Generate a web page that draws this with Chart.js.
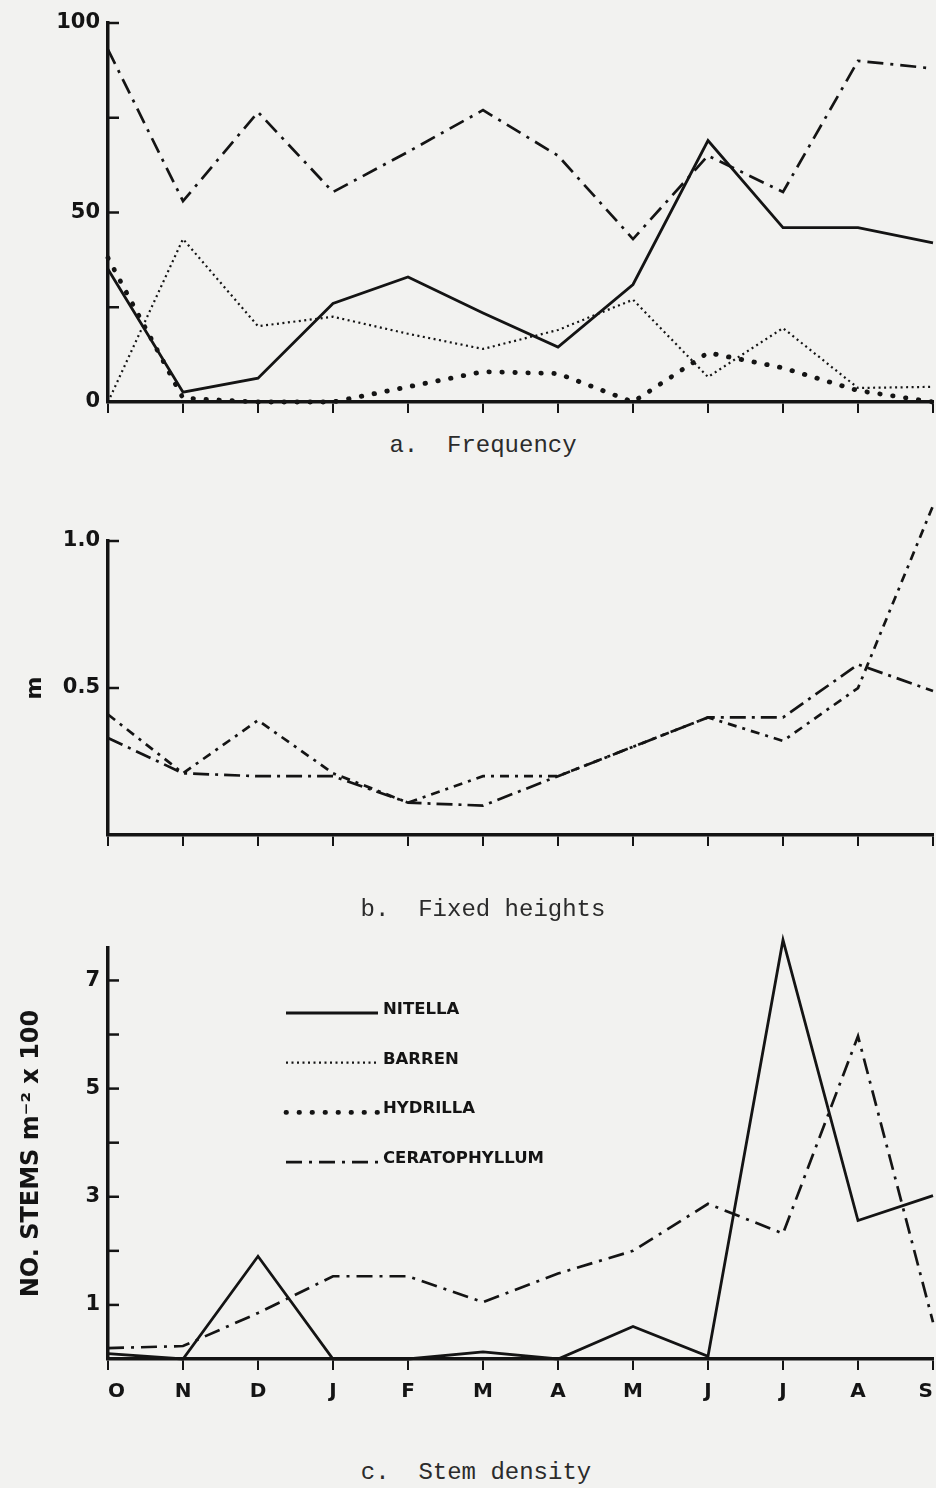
<!DOCTYPE html>
<html>
<head>
<meta charset="utf-8">
<script src="https://cdn.jsdelivr.net/npm/chart.js@4.4.1/dist/chart.umd.min.js"></script>
<style>
  html, body { margin: 0; padding: 0; background: #f2f2f0; }
  #page { position: relative; width: 936px; height: 1488px; overflow: hidden; }
  canvas { position: absolute; left: 0; }
  .cap {
    position: absolute;
    font-family: "Liberation Mono", monospace;
    font-size: 24px;
    color: #2b2b2b;
    white-space: pre;
    transform: translate(-50%, -50%);
  }
</style>
</head>
<body>
<div id="page">
  <canvas id="freqChart" width="936" height="430" style="top:0px"></canvas>
  <canvas id="heightChart" width="936" height="360" style="top:500px"></canvas>
  <canvas id="stemChart" width="936" height="520" style="top:920px"></canvas>
  <div class="cap" style="left:483px;top:445px">a.  Frequency</div>
  <div class="cap" style="left:483px;top:909px">b.  Fixed heights</div>
  <div class="cap" style="left:476px;top:1472px">c.  Stem density</div>
</div>

<script>
const months = ["O", "N", "D", "J", "F", "M", "A", "M", "J", "J", "A", "S"];

// a. Frequency (%)
const freqNitella = [35, 2.6, 6.3, 26, 33, 23.5, 14.5, 31, 69, 46, 46, 42];
const freqBarren = [0, 43, 20, 22.5, 18, 14, 19, 27, 6.6, 19.5, 3.7, 4];
const freqHydrilla = [38, 1, 0, 0, 4, 8, 7.5, 0, 13, 9, 3, 0];
const freqCerato = [93, 53, 76.5, 55.4, 66, 77, 65, 43, 65, 55.4, 90, 88];

// b. Fixed heights (m)
const heightShort = [0.41, 0.21, 0.39, 0.21, 0.11, 0.2, 0.2, 0.3, 0.4, 0.32, 0.5, 1.12];
const heightLong = [0.33, 0.21, 0.2, 0.2, 0.11, 0.1, 0.2, 0.3, 0.4, 0.4, 0.58, 0.49];

// c. Stem density (no. stems m-2 x 100)
const stemNitella = [0.1, 0, 1.9, 0, 0, 0.13, 0, 0.6, 0.05, 7.75, 2.56, 3.02];
const stemCerato = [0.2, 0.24, 0.85, 1.53, 1.53, 1.05, 1.58, 2.0, 2.87, 2.32, 5.97, 0.68];

const legendKeys = ["nitella", "barren", "hydrilla", "ceratophyllum"];
const legendLabels = ["NITELLA", "BARREN", "HYDRILLA", "CERATOPHYLLUM"];

const ink = "#141414";
const boldFont = "DejaVu Sans";

const lineStyles = {
  nitella: { borderWidth: 2.8, borderDash: [] },
  barren: { borderWidth: 2.2, borderDash: [2, 3.5] },
  hydrilla: { borderWidth: 4.8, borderDash: [0.5, 12.5], borderCapStyle: "round" },
  ceratophyllum: { borderWidth: 2.7, borderDash: [16, 7, 3, 7] },
  heightShort: { borderWidth: 2.7, borderDash: [9, 6, 3, 6] },
  heightLong: { borderWidth: 2.7, borderDash: [16, 6, 3, 6] },
};

function line(label, data, style) {
  return Object.assign({
    label,
    data,
    borderColor: ink,
    backgroundColor: ink,
    pointRadius: 0,
    tension: 0,
    fill: false,
    clip: false,
    borderCapStyle: "butt",
    borderJoinStyle: "miter",
  }, style);
}

// y ticks in the original point into the plot
const inwardTicks = {
  id: "inwardTicks",
  afterDraw(chart) {
    const y = chart.scales.y;
    const ctx = chart.ctx;
    const left = chart.chartArea.left;
    ctx.save();
    ctx.strokeStyle = ink;
    ctx.lineWidth = 2.5;
    y.ticks.forEach((t) => {
      if (t.value <= 0) return;
      const py = y.getPixelForValue(t.value);
      ctx.beginPath();
      ctx.moveTo(left, py);
      ctx.lineTo(left + 11, py);
      ctx.stroke();
    });
    ctx.restore();
  },
};

const stemLegend = {
  id: "stemLegend",
  afterDraw(chart) {
    const ctx = chart.ctx;
    ctx.save();
    legendKeys.forEach((key, i) => {
      const st = lineStyles[key];
      const y = 93 + i * 49.7;
      ctx.strokeStyle = ink;
      ctx.lineWidth = st.borderWidth;
      ctx.setLineDash(st.borderDash);
      ctx.lineCap = st.borderCapStyle || "butt";
      ctx.beginPath();
      ctx.moveTo(286, y);
      ctx.lineTo(378, y);
      ctx.stroke();
      ctx.setLineDash([]);
      ctx.fillStyle = ink;
      ctx.font = "bold 16.5px '" + boldFont + "'";
      ctx.textBaseline = "alphabetic";
      ctx.fillText(legendLabels[i], 383, y + 1);
    });
    ctx.restore();
  },
};

function buildScales(cfg) {
  return {
    x: {
      grid: { drawOnChartArea: false, drawTicks: true, tickLength: 11, color: ink, lineWidth: 2 },
      border: { display: true, color: ink, width: 3.5 },
      ticks: {
        display: cfg.xLabels,
        color: ink,
        font: { family: boldFont, weight: "bold", size: 20 },
        padding: 10,
        align: "inner",
        maxRotation: 0,
        autoSkip: false,
      },
      afterFit(s) {
        s.height = cfg.height - cfg.bottom;
        s.paddingLeft = 0;
        s.paddingRight = 0;
      },
    },
    y: {
      min: 0,
      max: cfg.max,
      ticks: {
        stepSize: cfg.step,
        callback: cfg.label,
        color: ink,
        font: { family: boldFont, weight: "bold", size: 21 },
        padding: 8,
      },
      grid: { drawOnChartArea: false, drawTicks: false },
      border: { display: true, color: ink, width: 3.5 },
      title: cfg.title || { display: false },
      afterBuildTicks(s) {
        s.ticks = s.ticks.filter((t) => Math.abs(t.value / cfg.step - Math.round(t.value / cfg.step)) < 1e-6);
      },
      afterFit(s) {
        s.width = 108;
        s.paddingTop = 0;
        s.paddingBottom = 0;
      },
    },
  };
}

function makeChart(id, datasets, cfg, extraPlugins = []) {
  return new Chart(document.getElementById(id), {
    type: "line",
    data: { labels: months, datasets },
    options: {
      responsive: false,
      animation: false,
      events: [],
      layout: { padding: { top: cfg.top, right: 3, left: 0, bottom: 0 } },
      plugins: { legend: { display: false }, tooltip: { enabled: false } },
      scales: buildScales(cfg),
    },
    plugins: [inwardTicks, ...extraPlugins],
  });
}

makeChart("freqChart", [
  line("Nitella", freqNitella, lineStyles.nitella),
  line("Barren", freqBarren, lineStyles.barren),
  line("Hydrilla", freqHydrilla, lineStyles.hydrilla),
  line("Ceratophyllum", freqCerato, lineStyles.ceratophyllum),
], {
  height: 430, top: 23, bottom: 402, max: 100, step: 25, xLabels: false,
  label: (v) => (v % 50 === 0 ? String(v) : ""),
});

makeChart("heightChart", [
  line("Height 1", heightShort, lineStyles.heightShort),
  line("Height 2", heightLong, lineStyles.heightLong),
], {
  height: 360, top: 41, bottom: 335, max: 1, step: 0.5, xLabels: false,
  label: (v) => (v === 1 ? "1.0" : v === 0.5 ? "0.5" : ""),
  title: {
    display: true, text: "m", color: ink,
    font: { family: boldFont, weight: "bold", size: 22 },
    padding: { top: 22, bottom: 0 },
  },
});

makeChart("stemChart", [
  line("Nitella", stemNitella, lineStyles.nitella),
  line("Ceratophyllum", stemCerato, lineStyles.ceratophyllum),
], {
  height: 520, top: 28, bottom: 439, max: 7.6, step: 1, xLabels: true,
  label: (v) => (v % 2 === 1 ? String(v) : ""),
  title: {
    display: true, text: "NO. STEMS m\u207B\u00B2 x 100", color: ink,
    font: { family: boldFont, weight: "bold", size: 24 },
    padding: { top: 17, bottom: 0 },
  },
}, [stemLegend]);
</script>
</body>
</html>
